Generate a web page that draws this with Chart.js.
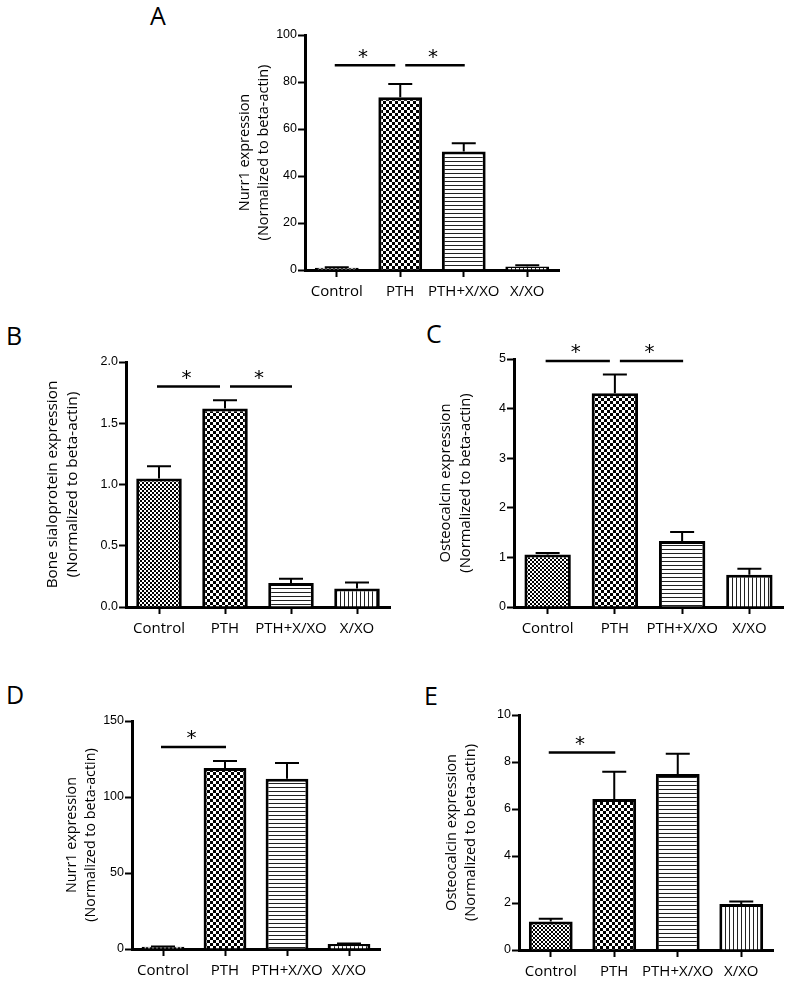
<!DOCTYPE html>
<html>
<head>
<meta charset="utf-8">
<script src="https://cdn.jsdelivr.net/npm/chart.js@4/dist/chart.umd.min.js"></script>
<style>
  body { margin: 0; width: 791px; height: 987px; overflow: hidden; background: #fff; position: relative; }
  canvas { position: absolute; }
  .panel { position: absolute; font-family: "Open Sans", sans-serif; font-size: 25px; line-height: 1; color: #000; }
</style>
</head>
<body>
<div class="panel" style="left:150px;top:3px">A</div>
<div class="panel" style="left:6px;top:323px">B</div>
<div class="panel" style="left:426px;top:321px">C</div>
<div class="panel" style="left:6px;top:682px">D</div>
<div class="panel" style="left:424px;top:683px">E</div>

<canvas id="chartA"></canvas>
<canvas id="chartB"></canvas>
<canvas id="chartC"></canvas>
<canvas id="chartD"></canvas>
<canvas id="chartE"></canvas>

<script>
const categories = ["Control", "PTH", "PTH+X/XO", "X/XO"];

// A - Nurr1
const nurrValues = [1.0, 73.5, 50.4, 1.5];
const nurrErrors = [0.2, 5.6, 3.5, 0.5];
const nurrTicks = [0, 20, 40, 60, 80, 100];
const nurrSig = [[0, 1, 87.1], [1, 2, 87.1]];

// B - Bone sialoprotein
const bspValues = [1.05, 1.62, 0.196, 0.152];
const bspErrors = [0.10, 0.068, 0.035, 0.047];
const bspTicks = [0, 0.5, 1.0, 1.5, 2.0];
const bspTickLabels = ["0.0", "0.5", "1.0", "1.5", "2.0"];
const bspSig = [[0, 1, 1.80], [1, 2, 1.80]];

// C - Osteocalcin
const oscValues = [1.06, 4.31, 1.33, 0.65];
const oscErrors = [0.03, 0.38, 0.18, 0.12];
const oscTicks = [0, 1, 2, 3, 4, 5];
const oscSig = [[0, 1, 4.96], [1, 2, 4.96]];

// D - Nurr1 (second experiment)
const nurr2Values = [1.5, 119, 112, 3.3];
const nurr2Errors = [0.2, 4.7, 10.3, 0.4];
const nurr2Ticks = [0, 50, 100, 150];
const nurr2Sig = [[0, 1, 132.9]];

// E - Osteocalcin (second experiment)
const osc2Values = [1.21, 6.43, 7.49, 1.96];
const osc2Errors = [0.12, 1.16, 0.86, 0.10];
const osc2Ticks = [0, 2, 4, 6, 8, 10];
const osc2Sig = [[0, 1, 8.40]];

// fill patterns
function makePattern(size, draw) {
  const c = document.createElement("canvas");
  c.width = size; c.height = size;
  const g = c.getContext("2d");
  g.fillStyle = "#fff";
  g.fillRect(0, 0, size, size);
  g.fillStyle = "#000";
  draw(g);
  return document.createElement("canvas").getContext("2d").createPattern(c, "repeat");
}
const fineChecker = makePattern(4, g => { g.fillRect(0, 0, 2, 2); g.fillRect(2, 2, 2, 2); });
const coarseChecker = makePattern(6, g => { g.fillRect(0, 0, 3, 3); g.fillRect(3, 3, 3, 3); });
const hLines = makePattern(4, g => { g.fillStyle = "#222"; g.fillRect(0, 0, 4, 1); });
const vLines = makePattern(4, g => { g.fillStyle = "#222"; g.fillRect(0, 0, 1, 4); });
const fills = [fineChecker, coarseChecker, hLines, vLines];

// error bars + significance lines
const extras = {
  id: "extras",
  afterDatasetsDraw(chart, args, opts) {
    const ctx = chart.ctx;
    const x = chart.scales.x, y = chart.scales.y;
    const meta = chart.getDatasetMeta(0);
    const vals = chart.data.datasets[0].data;
    ctx.save();
    ctx.strokeStyle = "#000";
    ctx.lineWidth = 2;
    meta.data.forEach((bar, i) => {
      const top = y.getPixelForValue(vals[i]);
      const et = y.getPixelForValue(vals[i] + opts.errors[i]);
      ctx.beginPath();
      ctx.moveTo(bar.x, top);
      ctx.lineTo(bar.x, et);
      ctx.moveTo(bar.x - 12, et);
      ctx.lineTo(bar.x + 12, et);
      ctx.stroke();
    });
    ctx.lineWidth = 2.5;
    ctx.fillStyle = "#000";
    ctx.font = "20px 'DejaVu Sans'";
    ctx.textAlign = "center";
    ctx.textBaseline = "alphabetic";
    const m = ctx.measureText("*");
    const mid = (m.actualBoundingBoxDescent - m.actualBoundingBoxAscent) / 2;
    opts.sig.forEach((s, k) => {
      const prev = opts.sig[k - 1], next = opts.sig[k + 1];
      const x1 = x.getPixelForValue(s[0]) + (prev && prev[1] === s[0] ? 5 : -2);
      const x2 = x.getPixelForValue(s[1]) + (next && next[0] === s[1] ? -5 : 1);
      const yy = y.getPixelForValue(s[2]);
      ctx.beginPath();
      ctx.moveTo(x1, yy);
      ctx.lineTo(x2, yy);
      ctx.stroke();
      ctx.fillText("*", (x1 + x2) / 2 - 2, yy - 12 - mid);
    });
    ctx.restore();
  }
};

function makeChart(id, box, values, errors, ticks, tickLabels, sig, title) {
  const yw = 90, padTop = 30, xh = 36, padRight = 6;
  const cv = document.getElementById(id);
  cv.width = box.x1 - box.x0 + yw + padRight;
  cv.height = box.y0 - box.y1 + padTop + xh;
  cv.style.left = (box.x0 - yw) + "px";
  cv.style.top = (box.y1 - padTop) + "px";
  return new Chart(cv, {
    type: "bar",
    data: {
      labels: categories,
      datasets: [{
        data: values,
        backgroundColor: fills,
        borderColor: "#000",
        borderWidth: 3,
        barPercentage: 0.69,
        categoryPercentage: 1
      }]
    },
    options: {
      responsive: false,
      animation: false,
      devicePixelRatio: 1,
      layout: { padding: { top: padTop, right: padRight, left: 0, bottom: 0 } },
      plugins: {
        legend: { display: false },
        tooltip: { enabled: false },
        extras: { errors: errors, sig: sig }
      },
      scales: {
        x: {
          offset: true,
          afterFit: s => { s.height = xh; },
          grid: { drawOnChartArea: false, offset: false, tickLength: 7, tickWidth: 2, tickColor: "#000" },
          border: { width: 3, color: "#000" },
          ticks: { color: "#000", padding: 6, maxRotation: 0, autoSkip: false,
                   font: { family: "Open Sans", size: 15 } }
        },
        y: {
          min: 0,
          max: ticks[ticks.length - 1],
          afterFit: s => { s.width = yw; },
          afterBuildTicks: s => { s.ticks = ticks.map(v => ({ value: v })); },
          grid: { drawOnChartArea: false, tickLength: 7, tickWidth: 2, tickColor: "#000" },
          border: { width: 3, color: "#000" },
          ticks: { color: "#000", padding: 1,
                   font: { family: "Liberation Sans", size: 12.5 },
                   callback: (v, i) => tickLabels[i] },
          title: { display: true, text: title.text, color: "#000",
                   padding: { top: title.pad, bottom: 0 },
                   font: { family: "Open Sans", size: title.size, lineHeight: 1.33 } }
        }
      }
    },
    plugins: [extras]
  });
}

const norm = "(Normalized to beta-actin)";
makeChart("chartA", { x0: 305, x1: 559, y0: 270, y1: 35 }, nurrValues, nurrErrors,
  nurrTicks, nurrTicks.map(String), nurrSig, { text: ["Nurr1 expression", norm], pad: 20, size: 14.5 });
makeChart("chartB", { x0: 126, x1: 390, y0: 607, y1: 362 }, bspValues, bspErrors,
  bspTicks, bspTickLabels, bspSig, { text: ["Bone sialoprotein expression", norm], pad: 6, size: 15.3 });
makeChart("chartC", { x0: 514, x1: 783, y0: 607, y1: 359 }, oscValues, oscErrors,
  oscTicks, oscTicks.map(String), oscSig, { text: ["Osteocalcin expression", norm], pad: 12, size: 14.8 });
makeChart("chartD", { x0: 132, x1: 380, y0: 949, y1: 721 }, nurr2Values, nurr2Errors,
  nurr2Ticks, nurr2Ticks.map(String), nurr2Sig, { text: ["Nurr1 expression", norm], pad: 20, size: 14.3 });
makeChart("chartE", { x0: 519, x1: 773, y0: 950, y1: 715 }, osc2Values, osc2Errors,
  osc2Ticks, osc2Ticks.map(String), osc2Sig, { text: ["Osteocalcin expression", norm], pad: 13, size: 14.6 });
</script>
</body>
</html>
